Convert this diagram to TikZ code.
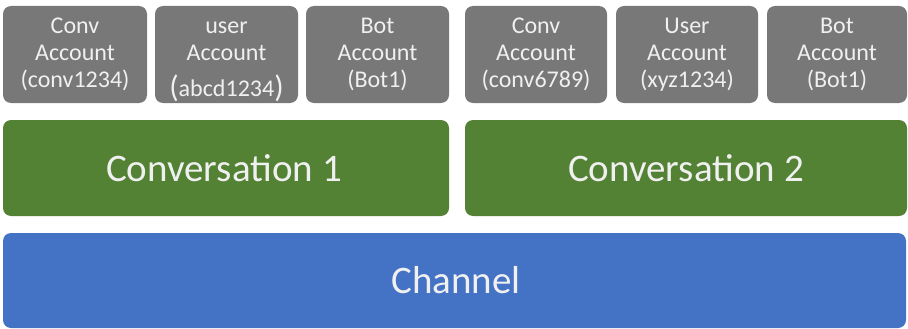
\documentclass[tikz,border=0pt]{standalone}
\usepackage{fontspec}
\setmainfont{Carlito}
\definecolor{acctgrey}{HTML}{787878}
\definecolor{convgreen}{HTML}{548235}
\definecolor{chanblue}{HTML}{4472C4}
\definecolor{txtlight}{HTML}{F0F0F0}
\newcommand{\bigparen}[1]{\raisebox{-1pt}[0pt][0pt]{\fontsize{31}{27}\selectfont #1}}
\begin{document}
\begin{tikzpicture}[x=1pt,y=-1pt,
  acct/.style={fill=acctgrey,rounded corners=8pt},
  accttext/.style={align=center,text=txtlight,inner sep=0pt,font=\fontsize{24}{27}\selectfont},
  bigbox/.style={rounded corners=8pt},
  bigtext/.style={text=txtlight,inner sep=0pt,font=\fontsize{39}{44}\selectfont}]
\useasboundingbox (0,0) rectangle (908,329);
% account boxes
\foreach \xa/\xb in {3/147,155/298,306/449,465/607,616/758,767/907}{
  \fill[acct] (\xa,6) rectangle (\xb,103);
}
\node[accttext] (t1) at (75,54.5) {Conv\\Account\\(conv1234)};
\node[accttext] (t2) at (226.5,59) {user\\Account\\[9pt]\bigparen{(}abcd1234\bigparen{)}};
\node[accttext] (t3) at (377.5,54.5) {Bot\\Account\\(Bot1)};
\node[accttext] (t4) at (536,54.5) {Conv\\Account\\(conv6789)};
\node[accttext] (t5) at (687,54.5) {User\\Account\\(xyz1234)};
\node[accttext] (t6) at (837,54.5) {Bot\\Account\\(Bot1)};
% conversations
\fill[convgreen,bigbox] (3,120) rectangle (449,216);
\fill[convgreen,bigbox] (465,120) rectangle (907,216);
\node[bigtext] (c1) at (224,168) {Conversation 1};
\node[bigtext] (c2) at (686,168) {Conversation 2};
% channel
\fill[chanblue,bigbox] (3,233) rectangle (906,328);
\node[bigtext] (ch) at (456,280) {Channel};
\end{tikzpicture}
\end{document}
